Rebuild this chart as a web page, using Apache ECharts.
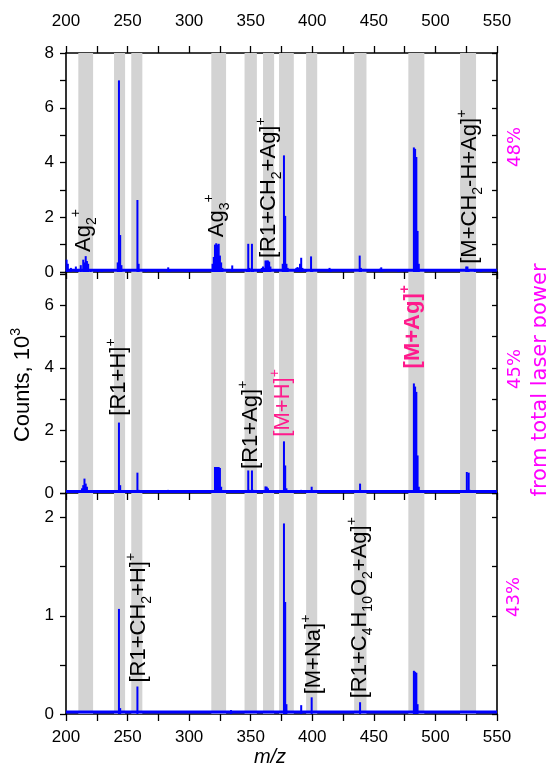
<!DOCTYPE html>
<html><head><meta charset="utf-8">
<script src="https://cdn.jsdelivr.net/npm/echarts@6/dist/echarts.min.js"></script>
<style>html,body{margin:0;padding:0;background:#fff}#c{width:546px;height:773px}</style>
</head><body><div id="c"></div>
<script>
// ---- data ----
const bands = [[210,222],[239,248],[253,262],[318,330],[345,355],[360,369],[373,385],[395,404],[434,444],[478,491],[520,533]];

const peaks48 = [[200.5,0.45],[201.5,0.3],[204,0.15],[208,0.2],[210,0.1],[212,0.25],[214,0.45],[215,0.35],[216,0.58],[217,0.4],[218,0.3],[220,0.1],[226,0.08],[229,0.06],
[242,0.35],[243,7.0],[244,1.35],[245,0.25],[258,2.63],[259,0.3],[265,0.08],[270,0.1],[275,0.08],[283,0.17],[284,0.1],[297,0.08],[300,0.1],
[319,0.3],[320,0.55],[321,1.0],[322,1.05],[323,1.0],[324,1.03],[325,0.6],[326,0.35],[327,0.15],[335,0.24],[347,0.08],[348,1.03],[349,0.15],[351,1.03],[352,0.1],
[356,0.1],[359,0.15],[360,0.2],[361,0.15],[362,0.42],[363,0.42],[364,0.42],[365,0.38],[366,0.2],[376,0.3],[377,4.26],[378,2.05],[379,0.3],[380,0.15],
[387,0.15],[388,0.18],[389,0.15],[390,0.3],[391,0.52],[392,0.15],[395,0.1],[399,0.57],[400,0.1],[414,0.15],[415,0.08],[425,0.06],[438.5,0.6],[439.5,0.15],
[455,0.12],[456,0.17],[457,0.1],[470,0.05],[482.5,4.55],[483.5,4.5],[484.5,4.2],[485.5,1.5],[486.5,0.3],[525,0.2],[526,0.2],[527,0.1],[532,0.07],[537,0.06]];

const peaks45 = [[202,0.06],[213,0.15],[214,0.25],[215,0.46],[216,0.3],[217,0.2],[243,2.25],[244,0.25],[258,0.65],[259,0.1],[283,0.1],
[321,0.83],[322,0.83],[323,0.83],[324,0.83],[325,0.8],[326,0.2],[348,0.72],[349,0.1],[351,0.72],[352,0.1],[362,0.21],[363,0.2],[364,0.15],
[377,1.65],[378,0.88],[379,0.15],[391,0.1],[399.5,0.2],[414,0.06],[438.8,0.3],[456,0.07],
[482.5,3.5],[483.5,3.4],[484.5,3.23],[485.5,1.2],[486.5,0.2],[525.5,0.67],[527,0.65],[528,0.1],[536,0.05],[541,0.04]];

const peaks43 = [[243,1.07],[244,0.06],[258,0.28],[334,0.04],[377,1.94],[378,1.14],[379,0.1],[391,0.09],[399.5,0.17],[438.8,0.12],
[482.5,0.44],[483.5,0.43],[484.5,0.42],[485.5,0.1]];

const base48 = [[200,0.06],[550,0.06]];
const base45 = [[200,0.05],[550,0.05]];
const base43 = [[200,0.02],[550,0.02]];

const labels48 = [
  {f:'{n|Ag}{sb|2}{sp|+}', x:214.6, y:0.73},
  {f:'{n|Ag}{sb|3}{sp|+}', x:322.4, y:1.27},
  {f:'{n|[R1+CH}{sb|2}{n|+Ag]}{sp|+}', x:365.1, y:0.51},
  {f:'{n|[M+CH}{sb|2}{n|-H+Ag]}{sp|+}', x:528, y:0.3}
];
const labels45 = [
  {f:'{n|[R1+H]}{sp|+}', x:243.3, y:2.47},
  {f:'{n|[R1+Ag]}{sp|+}', x:350.2, y:0.77},
  {f:'{n|[M+H]}{sp|+}', x:376, y:1.8, pink:true},
  {f:'{n|[M+Ag]}{sp|+}', x:481.5, y:3.98, pink:true, bold:true}
];
const labels43 = [
  {f:'{n|[R1+CH}{sb|2}{n|+H]}{sp|+}', x:259.5, y:0.32},
  {f:'{n|[M+Na]}{sp|+}', x:401.7, y:0.2},
  {f:'{n|[R1+C}{sb|4}{n|H}{sb|10}{n|O}{sb|2}{n|+Ag]}{sp|+}', x:438.8, y:0.16}
];

const yMaxes = [8, 7.06, 2.25];
const yIntervals = [2, 2, 1];
const percents = ['48%', '45%', '43%'];

// ---- chart ----
const FONT = 'Liberation Sans, Arial, sans-serif';
const BLUE = '#0000ff';
const PINK = '#ff1a8c';
const MAG = '#ff00ff';
const chart = echarts.init(document.getElementById('c'), null, {renderer:'canvas'});

const grids = [
  {left:66, top:53, width:431, height:219},
  {left:66, top:272, width:431, height:221},
  {left:66, top:493, width:431, height:221}
];
const axLine = {show:true, onZero:false, lineStyle:{color:'#000', width:1.6}};

const xAxes = [0,1,2].map(i => ({
  type:'value', gridIndex:i, min:200, max:550, interval:50, position:'bottom',
  axisLine:axLine, splitLine:{show:false},
  axisTick:{show:true, inside:false, length:7, lineStyle:{color:'#000', width:1.3}},
  minorTick:{show:true, splitNumber:2, length:7, lineStyle:{color:'#000', width:1.3}},
  axisLabel:{show:i===2, color:'#000', fontSize:17, fontFamily:FONT, margin:15}
}));
xAxes.push({
  type:'value', gridIndex:0, min:200, max:550, interval:50, position:'top',
  axisLine:axLine, splitLine:{show:false},
  axisTick:{show:true, inside:false, length:7, lineStyle:{color:'#000', width:1.3}},
  minorTick:{show:true, splitNumber:2, length:7, lineStyle:{color:'#000', width:1.3}},
  axisLabel:{show:true, color:'#000', fontSize:17, fontFamily:FONT, margin:23}
});

const yAxes = [];
[0,1,2].forEach(i => yAxes.push({
  type:'value', gridIndex:i, min:0, max:yMaxes[i], interval:yIntervals[i], position:'left',
  axisLine:axLine, splitLine:{show:false},
  axisTick:{show:true, inside:false, length:6, lineStyle:{color:'#000', width:1.3}},
  minorTick:{show:true, splitNumber:2, length:6, lineStyle:{color:'#000', width:1.3}},
  axisLabel:{show:true, color:'#000', fontSize:17, fontFamily:FONT, margin:12, showMaxLabel: i===0}
}));
[0,1,2].forEach(i => yAxes.push({
  type:'value', gridIndex:i, min:0, max:yMaxes[i], interval:yIntervals[i], position:'right',
  axisLine:axLine, splitLine:{show:false},
  axisTick:{show:true, inside:true, length:5, lineStyle:{color:'#000', width:1.3}},
  minorTick:{show:true, splitNumber:2, length:5, lineStyle:{color:'#000', width:1.3}},
  axisLabel:{show:false}
}));

function richFor(l){
  const c = l.pink ? PINK : '#000';
  const w = l.bold ? 'bold' : 'normal';
  return {
    n:{fontSize:22, fontFamily:FONT, fontWeight:w, color:c, lineHeight:30},
    sb:{fontSize:14, fontFamily:FONT, fontWeight:w, color:c, lineHeight:12, verticalAlign:'bottom'},
    sp:{fontSize:14, fontFamily:FONT, fontWeight:w, color:c, lineHeight:8, verticalAlign:'top'}
  };
}
function markPoints(labels){
  return {
    silent:true, animation:false,
    data: labels.map(l => ({
      coord:[l.x, l.y], symbol:'rect', symbolSize:0,
      label:{show:true, formatter:l.f, rich:richFor(l), position:'inside', rotate:90,
             align:'left', verticalAlign:'middle', offset:[0,0]}
    }))
  };
}

const peaksAll = [peaks48, peaks45, peaks43];
const baseAll = [base48, base45, base43];
const labelsAll = [labels48, labels45, labels43];
const series = [];
[0,1,2].forEach(i => {
  series.push({
    type:'line', xAxisIndex:i, yAxisIndex:i, data:[], z:1, silent:true,
    markArea:{silent:true, itemStyle:{color:'#d3d3d3'}, data: bands.map(b => [{xAxis:b[0]},{xAxis:b[1]}])}
  });
  series.push({
    type:'bar', xAxisIndex:i, yAxisIndex:i, data:peaksAll[i], barWidth:2, z:3, silent:true,
    itemStyle:{color:BLUE}
  });
  series.push({
    type:'line', xAxisIndex:i, yAxisIndex:i, data:baseAll[i], z:4, silent:true, symbol:'none',
    lineStyle:{color:BLUE, width:3},
    markPoint: markPoints(labelsAll[i])
  });
});

const graphics = [
  {type:'text', x:23, y:385, rotation:Math.PI/2, style:{
    text:'{t|Counts, 10}{s|3}', align:'center', verticalAlign:'middle',
    rich:{t:{fontSize:22, fontFamily:FONT, color:'#000', lineHeight:28}, s:{fontSize:14, fontFamily:FONT, color:'#000', lineHeight:10, verticalAlign:'top'}}
  }},
  {type:'text', x:270, y:757, style:{text:'m/z', font:'italic 20px '+FONT, fill:'#000', align:'center', verticalAlign:'middle'}},
  {type:'text', x:515, y:147, rotation:Math.PI/2, style:{text:percents[0], font:'18px DejaVu Sans', fill:MAG, align:'center', verticalAlign:'middle'}},
  {type:'text', x:515, y:369, rotation:Math.PI/2, style:{text:percents[1], font:'18px DejaVu Sans', fill:MAG, align:'center', verticalAlign:'middle'}},
  {type:'text', x:514, y:597, rotation:Math.PI/2, style:{text:percents[2], font:'18px DejaVu Sans', fill:MAG, align:'center', verticalAlign:'middle'}},
  {type:'text', x:541, y:380, rotation:Math.PI/2, style:{text:'from total laser power', font:'21px DejaVu Sans', fill:MAG, align:'center', verticalAlign:'middle'}}
];

chart.setOption({
  animation:false,
  backgroundColor:'#fff',
  grid:grids, xAxis:xAxes, yAxis:yAxes, series:series, graphic:graphics
});
</script></body></html>
